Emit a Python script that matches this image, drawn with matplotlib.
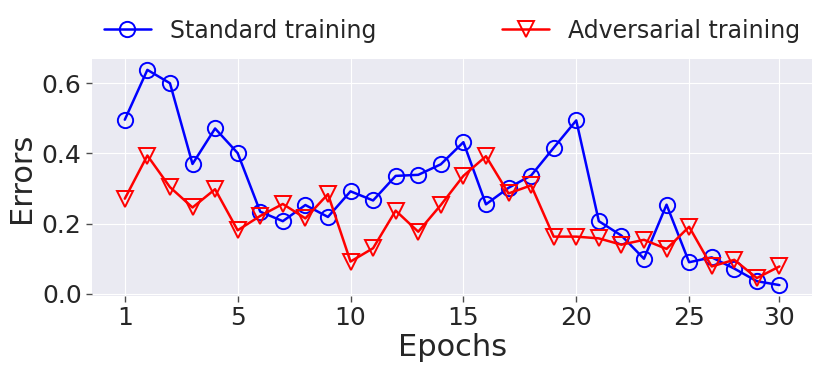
#!/usr/bin/env python3
import matplotlib
matplotlib.use("Agg")
import matplotlib.pyplot as plt
import numpy as np

# errors per epoch
standard = [0.496, 0.638, 0.600, 0.370, 0.471, 0.401, 0.234, 0.207, 0.253, 0.219,
            0.292, 0.266, 0.336, 0.339, 0.369, 0.432, 0.255, 0.302, 0.337, 0.416,
            0.494, 0.207, 0.166, 0.100, 0.254, 0.090, 0.104, 0.072, 0.036, 0.025]
adversarial = [0.271, 0.394, 0.304, 0.246, 0.298, 0.181, 0.222, 0.256, 0.215, 0.284,
               0.092, 0.130, 0.237, 0.177, 0.253, 0.336, 0.392, 0.286, 0.309, 0.163,
               0.163, 0.158, 0.140, 0.154, 0.128, 0.191, 0.078, 0.097, 0.045, 0.078]
tick_pos = [0, 5, 10, 15, 20, 25, 29]
tick_labels = ["1", "5", "10", "15", "20", "25", "30"]

plt.style.use("seaborn-v0_8-darkgrid")
plt.rcParams["font.family"] = ["DejaVu Sans"]

fig = plt.figure(figsize=(8.22, 3.74), dpi=100)
ax = fig.add_axes([0.112, 0.209, 0.876, 0.633])

x = np.arange(len(standard))
ax.plot(x, standard, color="blue", marker="o", ms=11, mfc="none", mew=1.4,
        lw=1.8, label="Standard training")
ax.plot(x, adversarial, color="red", marker="v", ms=11, mfc="none", mew=1.4,
        lw=1.8, label="Adversarial training")

ax.set_xticks(tick_pos)
ax.set_xticklabels(tick_labels)
ax.set_yticks([0.0, 0.2, 0.4, 0.6])
ax.tick_params(labelsize=18, length=4, width=1, color="0.3")
ax.set_xlabel("Epochs", fontsize=22, labelpad=2)
ax.set_ylabel("Errors", fontsize=22, labelpad=4)

ax.legend(loc="lower left", bbox_to_anchor=(0, 1.02, 1, 0.2), mode="expand",
          ncol=2, frameon=False, fontsize=17, borderaxespad=0.1)

fig.savefig("out.png", dpi=100)
